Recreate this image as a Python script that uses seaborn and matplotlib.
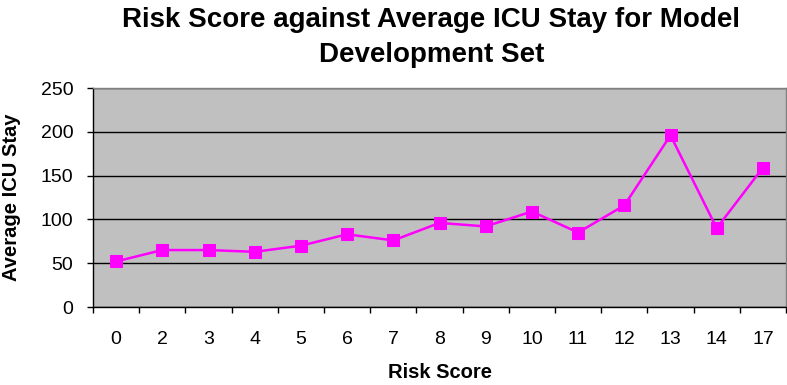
import matplotlib
matplotlib.use("Agg")
import matplotlib.pyplot as plt
import seaborn as sns
import pandas as pd
import numpy as np

risk_scores = ["0", "2", "3", "4", "5", "6", "7", "8", "9", "10", "11", "12", "13", "14", "17"]
avg_icu_stay = [52, 65, 65, 63, 70, 83, 76, 96, 92, 109, 85, 116, 196, 90, 159]

sns.set_theme(style="white")
plt.rcParams['font.family'] = ['Liberation Sans', 'DejaVu Sans']
plt.rcParams['text.color'] = 'black'
plt.rcParams['axes.labelcolor'] = 'black'
plt.rcParams['xtick.color'] = 'black'
plt.rcParams['ytick.color'] = 'black'

df = pd.DataFrame({"pos": np.arange(len(risk_scores)), "stay": avg_icu_stay})

fig = plt.figure(figsize=(7.87, 3.85), dpi=100)
ax = fig.add_axes([93/787, 1-307/385, (786-93)/787, (307-88)/385])
ax.set_facecolor("#C0C0C0")

sns.lineplot(data=df, x="pos", y="stay", ax=ax, color="#FF00FF", lw=1.8,
             marker="s", markersize=8, markeredgecolor="#FF00FF", zorder=3)

ax.set_xlim(-0.5, len(risk_scores) - 0.5)
ax.set_ylim(0, 250)
ax.set_yticks([0, 50, 100, 150, 200, 250])
ax.set_xticks(np.arange(len(risk_scores)))
ax.set_xticklabels(risk_scores)
ax.set_xticks(np.arange(-0.5, len(risk_scores)), minor=True)
ax.tick_params(axis="x", which="major", length=0, pad=17, labelsize=14, colors="black")
ax.tick_params(axis="x", which="minor", length=4.3, width=1, color="black", bottom=True, direction="out")
ax.tick_params(axis="y", which="major", length=4.3, width=1, color="black", left=True,
               direction="out", labelsize=14, labelcolor="black", pad=10)

ax.yaxis.grid(True, color="black", lw=1)
ax.xaxis.grid(False)
ax.set_axisbelow(True)

for s in ["top", "right"]:
    ax.spines[s].set_color("#808080")
    ax.spines[s].set_linewidth(1)
for s in ["left", "bottom"]:
    ax.spines[s].set_color("black")
    ax.spines[s].set_linewidth(1)

ax.set_xlabel("Risk Score", fontsize=14.5, fontweight="bold")
ax.xaxis.set_label_coords(0.5, (307-378)/219)
ax.xaxis.label.set_verticalalignment("baseline")
ax.set_ylabel("Average ICU Stay", fontsize=14.5, fontweight="bold")
ax.yaxis.set_label_coords((21-93)/693, 0.5)

fig.text(0.548, 1-27/385, "Risk Score against Average ICU Stay for Model",
         ha="center", va="baseline", fontsize=20, fontweight="bold")
fig.text(0.548, 1-62/385, "Development Set",
         ha="center", va="baseline", fontsize=20, fontweight="bold")

fig.savefig("out.png", dpi=100)
